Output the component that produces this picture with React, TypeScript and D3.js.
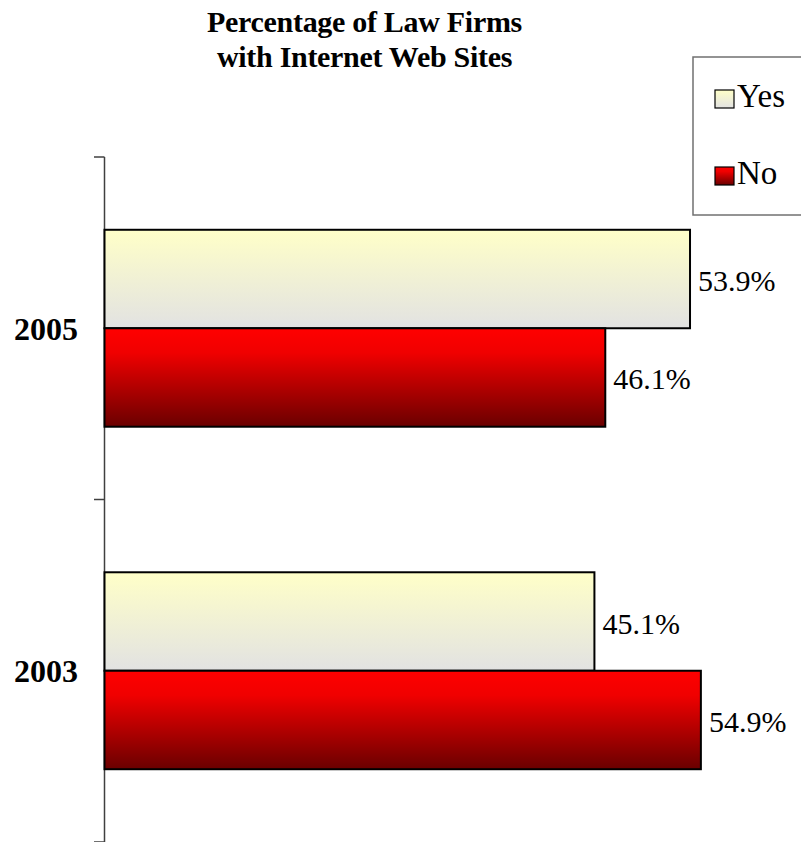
import React from "react";
import * as d3 from "d3";

const categories = ["2005", "2003"];
const seriesNames = ["Yes", "No"];
const yesValues = [53.9, 45.1];
const noValues = [46.1, 54.9];
const titleLines = ["Percentage of Law Firms", "with Internet Web Sites"];

const W = 801;
const H = 842;

export default function App() {
  const x = d3.scaleLinear().domain([0, 100]).range([104.5, 104.5 + 1086.3]);
  const y = d3.scaleBand<string>().domain(categories).range([157, 842]).paddingInner(0).paddingOuter(0);
  const inner = d3
    .scaleBand<string>()
    .domain(seriesNames)
    .range([0, y.step()])
    .paddingInner(0)
    .paddingOuter(0.739);
  const values: Record<string, number[]> = { Yes: yesValues, No: noValues };
  const fills: Record<string, string> = { Yes: "url(#gYes)", No: "url(#gNo)" };
  const ticks = [157, ...categories.map((c) => (y(c) as number) + y.step())];
  const serif = "'Liberation Serif', 'Times New Roman', serif";

  return (
    <svg
      width={W}
      height={H}
      style={{ position: "absolute", left: 0, top: 0, display: "block" }}
      fontFamily={serif}
    >
      <defs>
        <linearGradient id="gYes" x1="0" y1="0" x2="0" y2="1">
          <stop offset="0" stopColor="#FFFFC8" />
          <stop offset="1" stopColor="#E2E2E2" />
        </linearGradient>
        <linearGradient id="gNo" x1="0" y1="0" x2="0" y2="1">
          <stop offset="0" stopColor="#FF0000" />
          <stop offset="0.25" stopColor="#F00000" />
          <stop offset="1" stopColor="#6A0000" />
        </linearGradient>
      </defs>
      <rect width={W} height={H} fill="#fff" />

      {/* title */}
      {titleLines.map((t, i) => (
        <text
          key={t}
          x={364.5}
          y={32 + i * 35}
          textAnchor="middle"
          fontWeight="bold"
          fontSize={30}
          letterSpacing={-0.3}
        >
          {t}
        </text>
      ))}

      {/* axis */}
      <line x1={104.5} x2={104.5} y1={157} y2={H} stroke="#404040" strokeWidth={1.5} />
      {ticks.map((t) => (
        <line key={t} x1={94} x2={104.5} y1={t} y2={t} stroke="#404040" strokeWidth={1.5} />
      ))}

      {/* bars */}
      {categories.map((c, ci) => (
        <g key={c}>
          {seriesNames.map((s) => {
            const y0 = (y(c) as number) + (inner(s) as number);
            const v = values[s][ci];
            const x1 = x(v);
            return (
              <g key={s}>
                <rect
                  x={x(0)}
                  y={y0}
                  width={x1 - x(0)}
                  height={inner.bandwidth()}
                  fill={fills[s]}
                  stroke="#000"
                  strokeWidth={2}
                />
                <text x={x1 + 8} y={y0 + inner.bandwidth() / 2 + 12} fontSize={30}>
                  {v.toFixed(1) + "%"}
                </text>
              </g>
            );
          })}
          <text
            x={14}
            y={(y(c) as number) + y.step() / 2 + 11.5}
            fontWeight="bold"
            fontSize={32}
          >
            {c}
          </text>
        </g>
      ))}

      {/* legend */}
      <rect x={693} y={57} width={120} height={158} fill="#fff" stroke="#707070" strokeWidth={1.5} />
      {seriesNames.map((s, i) => (
        <g key={s}>
          <rect
            x={715}
            y={90 + i * 77}
            width={19}
            height={18}
            fill={fills[s]}
            stroke="#000"
            strokeWidth={1.2}
          />
          <text x={737} y={107 + i * 77} fontSize={33}>
            {s}
          </text>
        </g>
      ))}
    </svg>
  );
}
